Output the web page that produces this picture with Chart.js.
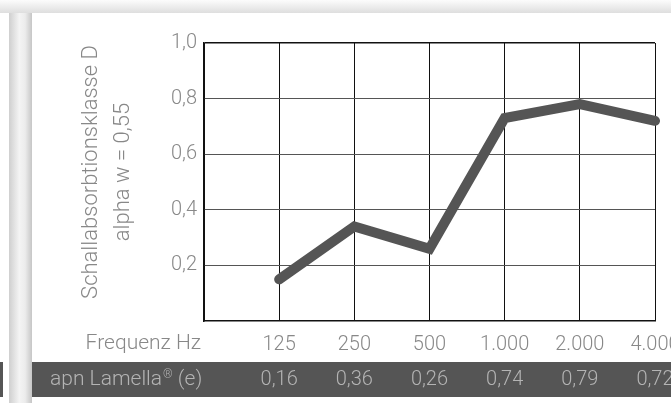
<!DOCTYPE html>
<html>
<head>
<meta charset="utf-8">
<script src="https://cdn.jsdelivr.net/npm/chart.js@4"></script>
<style>
  html, body { margin: 0; padding: 0; width: 671px; height: 403px; overflow: hidden; background: #fff; }
  .topband { position: absolute; left: 0; top: 0; width: 671px; height: 13px; background: linear-gradient(to bottom, #fcfcfc, #dedede); }
  .sidebar { position: absolute; left: 9px; top: 13px; width: 23px; height: 390px; background: linear-gradient(to right, #cfcfcf, #f4f4f4 45%, #ececec 70%, #c6c6c6); }
  .leftbox { position: absolute; left: 0; top: 362px; width: 3px; height: 35px; background: #555; }
  .panel { position: absolute; left: 32px; top: 13px; width: 690px; height: 390px; }
</style>
</head>
<body>
<div class="topband"></div>
<div class="sidebar"></div>
<div class="leftbox"></div>
<div class="panel"><canvas id="absorptionChart" width="690" height="390"></canvas></div>
<script>
// chart data
const frequencies = ['', '125', '250', '500', '1.000', '2.000', '4.000']
const lineValues = [null, 0.15, 0.34, 0.26, 0.73, 0.78, 0.72]
const tableValues = ['', '0,16', '0,36', '0,26', '0,74', '0,79', '0,72']
const yTicks = [0.2, 0.4, 0.6, 0.8, 1.0]
const yTitle = ['Schallabsorbtionsklasse D', 'alpha w = 0,55']
const xTitle = 'Frequenz Hz'
const productName = ['apn Lamella', '®', ' (e)']

const FONT = 'Roboto'
const textColor = '#888888'

// draws axis titles and the value row under the chart
const tablePlugin = {
  id: 'tableRow',
  afterDraw(chart) {
    const ctx = chart.ctx
    const x = chart.scales.x
    const area = chart.chartArea

    ctx.save()
    ctx.fillStyle = textColor
    ctx.font = '300 22px ' + FONT
    ctx.textAlign = 'center'
    ctx.textBaseline = 'middle'
    ctx.translate(59, 159)
    ctx.rotate(-Math.PI / 2)
    ctx.fillText(yTitle[0], 0, 0)
    ctx.fillText(yTitle[1], 0, 32)
    ctx.restore()

    ctx.save()
    ctx.fillStyle = textColor
    ctx.font = '300 21px ' + FONT
    ctx.textAlign = 'right'
    ctx.textBaseline = 'middle'
    ctx.fillText(xTitle, area.left - 3, 331)

    // value row
    const rowTop = 349, rowH = 35
    ctx.fillStyle = '#555555'
    ctx.fillRect(0, rowTop, chart.width, rowH)
    ctx.fillStyle = '#b4b4b4'
    ctx.textAlign = 'left'
    let px = 18
    const cy = rowTop + rowH / 2
    ctx.font = '300 21px ' + FONT
    ctx.fillText(productName[0], px, cy)
    px += ctx.measureText(productName[0]).width + 1
    ctx.font = '300 12px ' + FONT
    ctx.fillText(productName[1], px, cy - 5)
    px += ctx.measureText(productName[1]).width
    ctx.font = '300 21px ' + FONT
    ctx.fillText(productName[2], px, cy)

    ctx.textAlign = 'center'
    ctx.font = '300 20px ' + FONT
    tableValues.forEach((t, i) => {
      if (!t) return
      ctx.fillText(t, x.getPixelForValue(i), cy)
    })
    ctx.restore()
  }
}

const data = {
  labels: frequencies,
  datasets: [{
    label: 'apn Lamella (e)',
    data: lineValues,
    borderColor: '#555555',
    borderWidth: 10,
    pointRadius: 0,
    tension: 0,
    borderCapStyle: 'round',
    borderJoinStyle: 'miter'
  }]
}

const config = {
  type: 'line',
  data: data,
  options: {
    responsive: false,
    animation: false,
    layout: { padding: { left: 0, right: 67, top: 30, bottom: 0 } },
    plugins: {
      legend: { display: false },
      tooltip: { enabled: false }
    },
    scales: {
      x: {
        grid: { color: '#111', lineWidth: 1, drawTicks: false },
        border: { color: '#111', width: 1.5 },
        ticks: {
          color: textColor,
          font: { family: FONT, size: 20, weight: '300' },
          padding: 12,
          maxRotation: 0,
          autoSkip: false
        },
        afterFit: (s) => { s.height = 82 }
      },
      y: {
        min: 0,
        max: 1,
        afterBuildTicks: (s) => { s.ticks = yTicks.map(v => ({ value: v })) },
        grid: {
          color: (c) => c.tick && c.tick.value === 1 ? '#111' : '#555',
          lineWidth: (c) => c.tick && c.tick.value === 1 ? 1.5 : 1,
          drawTicks: false
        },
        border: { color: '#111', width: 1.5 },
        ticks: {
          color: textColor,
          font: { family: FONT, size: 20, weight: '300' },
          padding: 7,
          callback: (v) => v.toFixed(1).replace('.', ',')
        },
        afterFit: (s) => { s.width = 172 }
      }
    }
  },
  plugins: [tablePlugin]
}

const absorptionChart = new Chart(
  document.querySelector('#absorptionChart'),
  config
)
</script>
</body>
</html>
